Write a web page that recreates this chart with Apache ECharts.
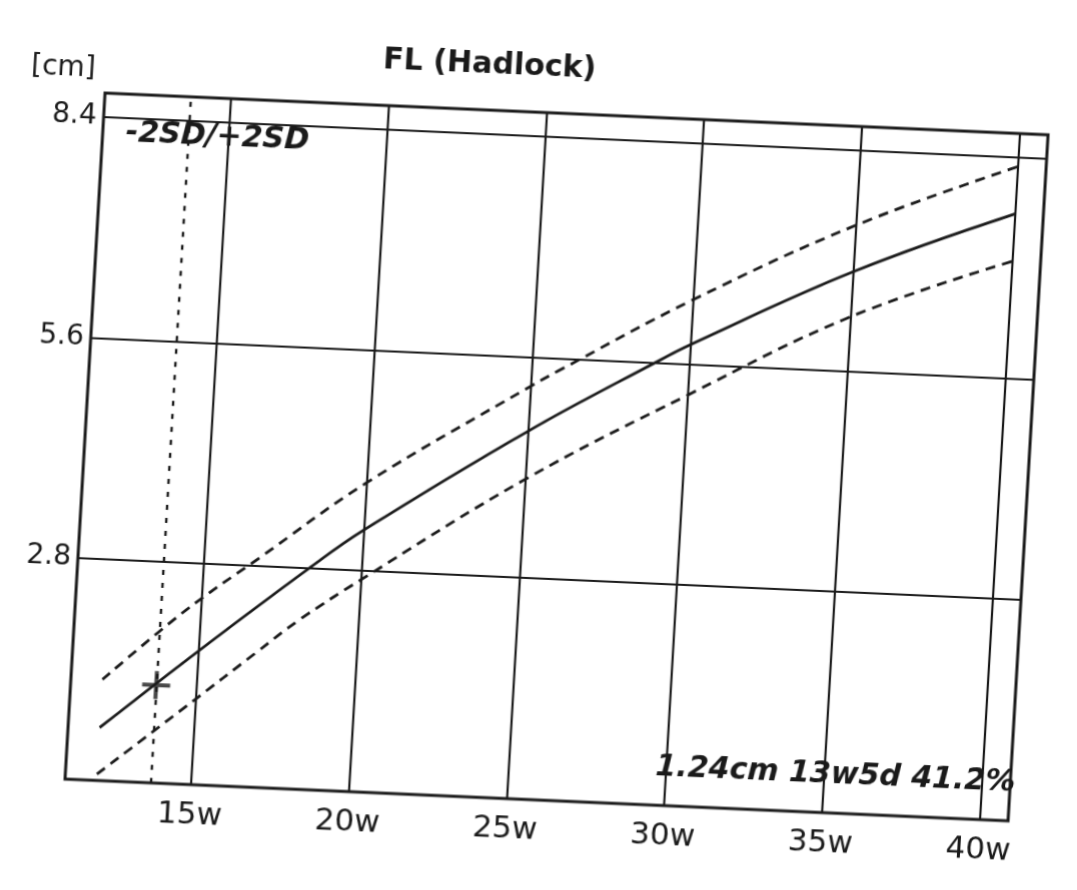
<!DOCTYPE html>
<html>
<head>
<meta charset="utf-8">
<script src="https://cdn.jsdelivr.net/npm/echarts@6.0.0/dist/echarts.min.js"></script>
<style>
  html, body { margin: 0; padding: 0; background: #ffffff; overflow: hidden; width: 1077px; height: 890px; }
  #chart {
    position: absolute; left: 0; top: 0; width: 1077px; height: 890px;
    transform-origin: 0 0;
    transform: matrix(1, 0.0443, -0.0583, 1, 28.5, 29.5);
  }
</style>
</head>
<body>
<div id="chart"></div>
<script>
// ---- data ----
const weeksMean = [12, 15, 18.32, 20, 25, 28.9, 30, 35, 40];
const flMean = [0.67, 1.70, 2.80, 3.32, 4.66, 5.60, 5.85, 6.86, 7.68];
const weeksPlus2SD = [12, 14.5, 16.72, 20, 25, 25.85, 30, 35, 40];
const flPlus2SD = [1.28, 2.20, 2.90, 3.92, 5.23, 5.44, 6.42, 7.45, 8.28];
const weeksMinus2SD = [12, 14.85, 16.79, 18.1, 20, 25, 30, 35, 40];
const flMinus2SD = [0.08, 1.04, 1.70, 2.14, 2.69, 4.05, 5.21, 6.29, 7.08];
const gridWeeks = [15, 20, 25, 30, 35, 40];
const yTicks = [2.8, 5.6, 8.4];
const measuredWeek = [13.71];
const measuredFL = [1.24];
const titleText = 'FL (Hadlock)';
const unitText = '[cm]';
const sdText = '-2SD/+2SD';
const resultText = '1.24cm 13w5d 41.2%';

const ink = '#1a1a1a';
const FONT = '"DejaVu Sans", Verdana, sans-serif';

function pairs(xs, ys) { return xs.map((x, i) => [x, ys[i]]); }

const chart = echarts.init(document.getElementById('chart'), null, { renderer: 'canvas' });

const option = {
  animation: false,
  backgroundColor: '#ffffff',
  grid: {
    left: 80, top: 60, width: 943, height: 686,
    show: true, borderColor: ink, borderWidth: 3, backgroundColor: 'transparent',
    containLabel: false, outerBoundsMode: 'none'
  },
  xAxis: {
    type: 'value', min: 11, max: 40.9, interval: 1,
    axisLine: { show: false }, axisTick: { show: false }, splitLine: { show: false },
    axisLabel: {
      showMinLabel: false, showMaxLabel: false, margin: 15,
      color: ink, fontFamily: FONT, fontSize: 31,
      formatter: v => (gridWeeks.indexOf(v) >= 0 ? v + 'w' : '')
    }
  },
  yAxis: {
    type: 'value', min: 0, max: 8.7, interval: 2.8,
    axisLine: { show: false }, axisTick: { show: false },
    splitLine: { show: true, lineStyle: { color: ink, width: 2.2 } },
    axisLabel: {
      showMinLabel: false, showMaxLabel: false, margin: 7,
      color: ink, fontFamily: FONT, fontSize: 28,
      formatter: v => (yTicks.indexOf(Math.round(v * 10) / 10) >= 0 ? v.toFixed(1) : '')
    }
  },
  series: [
    {
      type: 'line', name: 'mean', data: pairs(weeksMean, flMean), smooth: 0.4,
      showSymbol: false, lineStyle: { color: ink, width: 2.8 }, z: 3,
      markLine: {
        silent: true, symbol: 'none', label: { show: false },
        lineStyle: { color: ink, width: 2.2, type: 'solid' },
        data: gridWeeks.map(w => ({ xAxis: w })).concat([
          { xAxis: measuredWeek[0], lineStyle: { color: ink, width: 2.4, type: [5, 8] } }
        ])
      }
    },
    {
      type: 'line', name: '+2SD', data: pairs(weeksPlus2SD, flPlus2SD), smooth: 0.4,
      showSymbol: false, lineStyle: { color: ink, width: 2.8, type: [10, 7] }, z: 3
    },
    {
      type: 'line', name: '-2SD', data: pairs(weeksMinus2SD, flMinus2SD), smooth: 0.4,
      showSymbol: false, lineStyle: { color: ink, width: 2.8, type: [10, 7] }, z: 3
    },
    {
      type: 'scatter', name: 'measured', data: pairs(measuredWeek, measuredFL),
      symbol: 'path://M12,0h4v12h12v4h-12v12h-4v-12h-12v-4h12z', symbolSize: 28,
      itemStyle: { color: ink }, z: 5
    }
  ],
  graphic: [
    { type: 'text', x: 462, y: 15, z: 10,
      style: { text: titleText, font: 'bold 30px ' + FONT, fill: ink, align: 'center', verticalAlign: 'middle' } },
    { type: 'text', x: 37, y: 37, z: 10,
      style: { text: unitText, font: '28px ' + FONT, fill: ink, align: 'center', verticalAlign: 'middle' } },
    { type: 'text', x: 103, y: 99, z: 10,
      style: { text: sdText, font: 'italic bold 30px ' + FONT, fill: ink, align: 'left', verticalAlign: 'middle' } },
    { type: 'text', x: 1028, y: 708, z: 10,
      style: { text: resultText, font: 'italic bold 30px ' + FONT, fill: ink, align: 'right', verticalAlign: 'middle' } }
  ]
};
chart.setOption(option);
</script>
</body>
</html>
